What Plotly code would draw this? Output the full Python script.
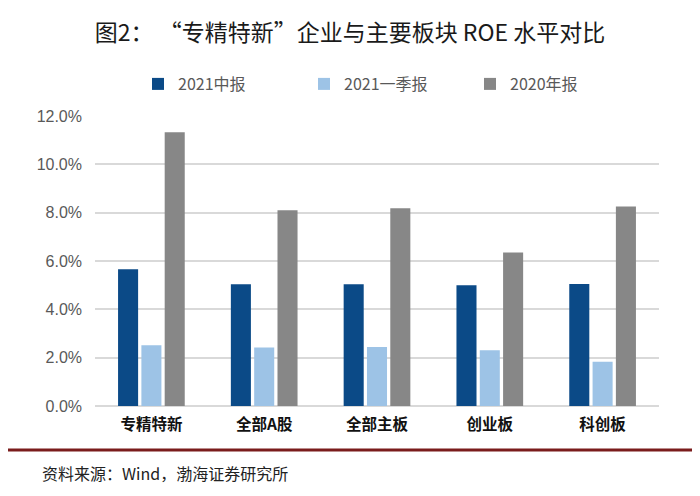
import plotly.graph_objects as go

categories = ["专精特新", "全部A股", "全部主板", "创业板", "科创板"]
series_names = ["2021中报", "2021一季报", "2020年报"]
roe_2021h1 = [0.0566, 0.0504, 0.0504, 0.0500, 0.0505]
roe_2021q1 = [0.0251, 0.0242, 0.0244, 0.0231, 0.0183]
roe_2020 = [0.1133, 0.0810, 0.0818, 0.0635, 0.0825]
colors = ["#0b4a87", "#9dc3e6", "#878787"]
y_ticks = [0, 0.02, 0.04, 0.06, 0.08, 0.10, 0.12]

# page body has an 8px margin, so the figure is drawn 8px smaller and offset
OFF = 8
W, H = 700 - OFF, 496 - OFF
ml, mr, mt, mb = 95 - OFF, 41, 116 - OFF, 90
ph = H - mt - mb
pw = W - ml - mr

fig = go.Figure()
for name, vals, col in zip(series_names, [roe_2021h1, roe_2021q1, roe_2020], colors):
    fig.add_trace(go.Bar(x=categories, y=vals, name=name, marker=dict(color=col, line=dict(width=0))))

fig.update_layout(
    width=W, height=H,
    margin=dict(l=ml, r=mr, t=mt, b=mb, autoexpand=False),
    paper_bgcolor="white", plot_bgcolor="white",
    barmode="group", bargap=0.38, bargroupgap=0.14,
    font=dict(family="Noto Sans CJK SC", color="#595959"),
    title=dict(
        text="图2： “专精特新”企业与主要板块 ROE 水平对比",
        x=(350 - OFF) / W, xref="container", xanchor="center",
        y=1 - (33 - OFF) / H, yref="container", yanchor="middle",
        font=dict(size=23, color="#1a1a1a", family="Noto Sans CJK SC"),
    ),
    legend=dict(
        orientation="h", x=43 / pw, xanchor="left", xref="paper",
        y=1 + (116 - 84) / ph, yanchor="middle",
        font=dict(size=16, color="#595959", family="Noto Sans CJK SC"),
        entrywidth=121, entrywidthmode="pixels",
        bgcolor="rgba(0,0,0,0)", traceorder="normal",
    ),
    showlegend=True,
)
fig.update_yaxes(
    range=[0, 0.12], tickvals=y_ticks, tickformat=".1%",
    showgrid=True, gridcolor="#d9d9d9", gridwidth=1.5,
    zeroline=True, zerolinecolor="#d9d9d9", zerolinewidth=1.5,
    showline=False, ticks="", ticklabelstandoff=12, automargin=False,
    tickfont=dict(size=16, color="#595959", family="Liberation Sans"),
)
fig.update_xaxes(
    showline=False, showgrid=False, ticks="", automargin=False,
    tickfont=dict(size=15.5, color="#111111", family="Noto Sans CJK SC", weight=600),
    ticklabelstandoff=7,
)
fig.add_shape(
    type="line", xref="paper", yref="paper",
    x0=(7 - 95) / pw, x1=(695 - 95) / pw,
    y0=-(450 - 406) / ph, y1=-(450 - 406) / ph,
    line=dict(color="#7a1c1c", width=3),
)
fig.add_annotation(
    text="资料来源：Wind，渤海证券研究所",
    xref="paper", yref="paper",
    x=(40 - 95) / pw, xanchor="left",
    y=-(473 - 406) / ph, yanchor="middle",
    showarrow=False,
    font=dict(size=16, color="#222222", family="Noto Sans CJK SC"),
)
fig.write_html("out.html")
